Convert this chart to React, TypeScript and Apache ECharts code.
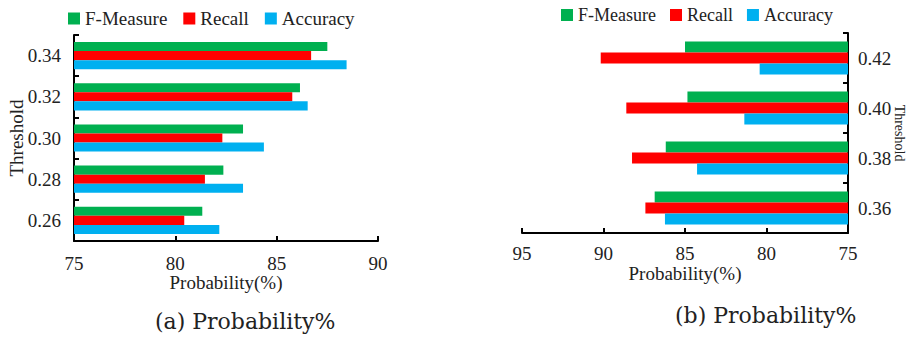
import React, { useEffect, useRef } from "react";
import * as echarts from "echarts";

const leftCategories = ["0.26", "0.28", "0.30", "0.32", "0.34"];
const leftFMeasure = [81.33, 82.37, 83.34, 86.15, 87.5];
const leftRecall = [80.44, 81.46, 82.32, 85.77, 86.7];
const leftAccuracy = [82.17, 83.34, 84.37, 86.53, 88.45];

const rightCategories = ["0.36", "0.38", "0.40", "0.42"];
const rightFMeasure = [86.86, 86.18, 84.85, 85.0];
const rightRecall = [87.43, 88.25, 88.6, 90.17];
const rightAccuracy = [86.23, 84.26, 81.36, 80.42];

const seriesNames = ["F-Measure", "Recall", "Accuracy"];
const colors = ["#00B050", "#FF0000", "#00B0F0"];

const FONT = "Liberation Serif, serif";

export default function App() {
  const ref = useRef<HTMLDivElement>(null);
  useEffect(() => {
    if (!ref.current) return;
    const chart = echarts.init(ref.current, null, { renderer: "svg" });
    const axisLine = { show: true, lineStyle: { color: "#000", width: 2 } };
    const axisTick = { show: true, inside: true, length: 5, lineStyle: { color: "#000", width: 2 } };
    const label = { color: "#222", fontFamily: FONT, fontSize: 19 };
    const nameStyle = { color: "#222", fontFamily: FONT, fontSize: 19 };
    const leftData = [leftFMeasure, leftRecall, leftAccuracy];
    const rightData = [rightFMeasure, rightRecall, rightAccuracy];
    const series: any[] = [];
    seriesNames.forEach((n, i) => {
      series.push({
        name: n,
        type: "bar",
        xAxisIndex: 0,
        yAxisIndex: 0,
        data: leftData[i],
        itemStyle: { color: colors[i] },
        barGap: "0%",
        barCategoryGap: "34%",
      });
    });
    seriesNames.forEach((n, i) => {
      series.push({
        name: n,
        type: "bar",
        xAxisIndex: 1,
        yAxisIndex: 1,
        data: rightData[i],
        itemStyle: { color: colors[i] },
        barGap: "0%",
        barCategoryGap: "34%",
      });
    });
    const legendBase = {
      data: seriesNames,
      orient: "horizontal",
      itemWidth: 12,
      itemHeight: 12,
      itemGap: 16,
      icon: "rect",
      textStyle: { color: "#222", fontFamily: FONT, fontSize: 19 },
      selectedMode: false,
    };
    chart.setOption({
      animation: false,
      backgroundColor: "#fff",
      color: colors,
      legend: [
        { ...legendBase, left: 63, top: 4, textStyle: { ...legendBase.textStyle } },
        { ...legendBase, left: 556, top: 1, itemGap: 14, textStyle: { ...legendBase.textStyle, fontSize: 18 } },
      ],
      grid: [
        { left: 74, right: 529, top: 35, bottom: 97, containLabel: false, outerBoundsMode: "none" },
        { left: 522, right: 59, top: 33, bottom: 105, containLabel: false, outerBoundsMode: "none" },
      ],
      xAxis: [
        {
          type: "value",
          gridIndex: 0,
          min: 75,
          max: 90,
          interval: 5,
          axisLine,
          axisTick,
          splitLine: { show: false },
          axisLabel: { ...label, margin: 13 },
          name: "Probability(%)",
          nameLocation: "middle",
          nameGap: 32,
          nameMoveOverlap: false,
          nameTextStyle: nameStyle,
        },
        {
          type: "value",
          gridIndex: 1,
          min: 75,
          max: 95,
          interval: 5,
          inverse: true,
          axisLine,
          axisTick,
          splitLine: { show: false },
          axisLabel: { ...label, margin: 11 },
          name: "Probability(%)",
          nameLocation: "middle",
          nameGap: 31,
          nameMoveOverlap: false,
          nameTextStyle: nameStyle,
        },
      ],
      yAxis: [
        {
          type: "category",
          gridIndex: 0,
          data: leftCategories,
          axisLine,
          axisTick,
          axisLabel: { ...label, margin: 13 },
          name: "Threshold",
          nameLocation: "middle",
          nameRotate: 90,
          nameGap: 48,
          nameMoveOverlap: false,
          nameTextStyle: nameStyle,
        },
        {
          type: "category",
          gridIndex: 1,
          position: "right",
          data: rightCategories,
          axisLine,
          axisTick,
          axisLabel: { ...label, margin: 10 },
          name: "Threshold",
          nameLocation: "middle",
          nameRotate: -90,
          nameGap: 44,
          nameMoveOverlap: false,
          nameTextStyle: { ...nameStyle, fontSize: 14 },
        },
      ],
      graphic: [
        {
          type: "text",
          left: 155,
          top: 310,
          style: { text: "(a) Probability%", font: "22px DejaVu Serif, serif", fill: "#222" },
        },
        {
          type: "text",
          left: 675,
          top: 304,
          style: { text: "(b) Probability%", font: "22px DejaVu Serif, serif", fill: "#222" },
        },
      ],
      series,
    });
    return () => chart.dispose();
  }, []);
  return <div ref={ref} style={{ width: 907, height: 338, position: "absolute", left: 0, top: 0 }} />;
}
